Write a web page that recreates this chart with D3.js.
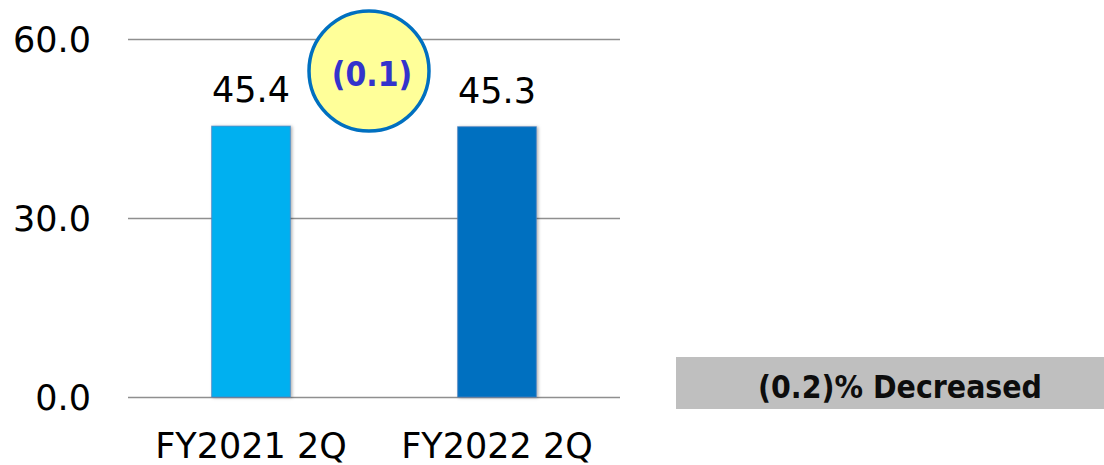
<!DOCTYPE html>
<html>
<head>
<meta charset="utf-8">
<script src="https://cdn.jsdelivr.net/npm/d3@7"></script>
<style>
  body { margin: 0; background: #fff; }
  text { font-family: "DejaVu Sans", Verdana, sans-serif; }
</style>
</head>
<body>
<svg id="chart" width="1104" height="465"></svg>
<script>
var categories = ["FY2021 2Q", "FY2022 2Q"];
var values = [45.4, 45.3];
var barColors = ["#00B0F0", "#0070C0"];
var yTicks = [0, 30, 60];
var diffLabel = "(0.1)";
var changeLabel = "(0.2)% Decreased";

var svg = d3.select("#chart");

// soft shadow like the office chart bars
var defs = svg.append("defs");
var f = defs.append("filter").attr("id", "shadow")
    .attr("x", "-20%").attr("y", "-5%").attr("width", "140%").attr("height", "110%");
f.append("feDropShadow")
    .attr("dx", 1.5).attr("dy", 0.5)
    .attr("stdDeviation", 1.5)
    .attr("flood-color", "#000")
    .attr("flood-opacity", 0.3);

var x = d3.scaleBand()
    .domain(categories)
    .range([128, 620]);

var y = d3.scaleLinear()
    .domain([0, 60])
    .range([397, 39]);

var barW = x.bandwidth() * 0.32;

// gridlines
svg.append("g")
  .selectAll("line")
  .data(yTicks)
  .enter().append("line")
    .attr("x1", 128)
    .attr("x2", 620)
    .attr("y1", function(d) { return Math.round(y(d)) + 0.5; })
    .attr("y2", function(d) { return Math.round(y(d)) + 0.5; })
    .attr("stroke", "#8f8f8f")
    .attr("stroke-width", 1.3);

// y tick labels
svg.append("g")
  .selectAll("text")
  .data(yTicks)
  .enter().append("text")
    .attr("x", 91)
    .attr("y", function(d) { return y(d); })
    .attr("dy", "0.36em")
    .attr("text-anchor", "end")
    .attr("font-size", 35)
    .attr("fill", "#000")
    .text(function(d) { return d3.format(".1f")(d); });

// bars
svg.append("g")
  .selectAll("rect")
  .data(values)
  .enter().append("rect")
    .attr("x", function(d, i) { return x(categories[i]) + x.bandwidth() / 2 - barW / 2; })
    .attr("y", function(d) { return y(d); })
    .attr("width", barW)
    .attr("height", function(d) { return y(0) - y(d); })
    .attr("fill", function(d, i) { return barColors[i]; })
    .attr("stroke", "#4f81bd")
    .attr("stroke-opacity", 0.7)
    .attr("stroke-width", 1)
    .attr("filter", "url(#shadow)");

// value labels
svg.append("g")
  .selectAll("text")
  .data(values)
  .enter().append("text")
    .attr("x", function(d, i) { return x(categories[i]) + x.bandwidth() / 2; })
    .attr("y", function(d) { return y(d) - 24; })
    .attr("text-anchor", "middle")
    .attr("font-size", 35)
    .attr("fill", "#000")
    .text(function(d) { return d3.format(".1f")(d); });

// category labels
svg.append("g")
  .selectAll("text")
  .data(categories)
  .enter().append("text")
    .attr("x", function(d) { return x(d) + x.bandwidth() / 2; })
    .attr("y", 458)
    .attr("text-anchor", "middle")
    .attr("font-size", 35)
    .attr("fill", "#000")
    .text(function(d) { return d; });

// difference bubble
var cx = (x(categories[0]) + x(categories[1]) + x.bandwidth()) / 2 - 5;
var bubble = svg.append("g").attr("transform", "translate(" + cx + ",71)");
bubble.append("circle")
    .attr("r", 60)
    .attr("fill", "#FFFF99")
    .attr("stroke", "#0070C0")
    .attr("stroke-width", 3.5);
bubble.append("text")
    .attr("x", 3)
    .attr("y", 3)
    .attr("dy", "0.36em")
    .attr("text-anchor", "middle")
    .attr("font-size", 30)
    .attr("font-weight", "bold")
    .attr("fill", "#3333CC")
    .attr("transform", "scale(1,1.12)")
    .text(diffLabel);

// change box
svg.append("rect")
    .attr("x", 676)
    .attr("y", 357)
    .attr("width", 428)
    .attr("height", 52)
    .attr("fill", "#BFBFBF");
svg.append("text")
    .attr("x", 900)
    .attr("y", 384)
    .attr("dy", "0.36em")
    .attr("text-anchor", "middle")
    .attr("font-size", 28.5)
    .attr("font-weight", "bold")
    .attr("fill", "#0d0d0d")
    .attr("transform", "translate(0,-36) scale(1,1.1)")
    .text(changeLabel);
</script>
</body>
</html>
